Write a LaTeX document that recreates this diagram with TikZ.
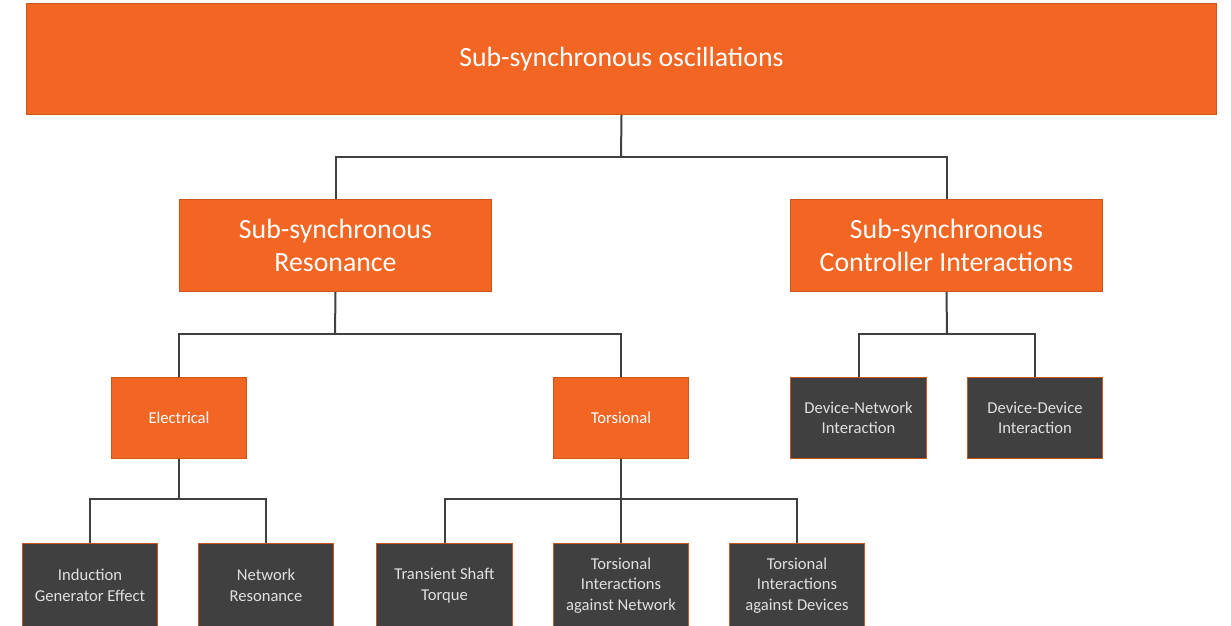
\documentclass[tikz,border=0pt]{standalone}
\usepackage{fontspec}
\setmainfont{Carlito}
\definecolor{ssorange}{HTML}{F26522}
\definecolor{ssedge}{HTML}{C9561B}
\definecolor{ssdark}{HTML}{404040}
\definecolor{sstext}{HTML}{E0E0E0}
\definecolor{ssline}{HTML}{404040}
\tikzset{
  box/.style={draw=ssedge, line width=1pt, inner sep=0pt, align=center, anchor=north west},
  orangebox/.style={box, fill=ssorange, text=white},
  darkbox/.style={box, fill=ssdark, text=sstext},
  big/.style={font=\fontsize{27.8}{33}\selectfont},
  small/.style={font=\fontsize{16.6}{20.5}\selectfont},
  link/.style={draw=ssline, line width=2pt}
}
\begin{document}
\begin{tikzpicture}[x=1pt, y=-1pt]
  \useasboundingbox (0,0) rectangle (1231,625);
  \clip (0,0) rectangle (1231,625);
  % level 0
  \node[orangebox, big, minimum width=1190pt, minimum height=111pt] (root) at (26,3) {Sub-synchronous oscillations};
  % level 1
  \node[orangebox, big, minimum width=312pt, minimum height=92pt] (ssr) at (179,199) {Sub-synchronous\\Resonance};
  \node[orangebox, big, minimum width=312pt, minimum height=92pt] (ssci) at (790,199) {Sub-synchronous\\Controller Interactions};
  % level 2
  \node[orangebox, small, minimum width=135pt, minimum height=81pt] (elec) at (111,377) {Electrical};
  \node[orangebox, small, minimum width=135pt, minimum height=81pt] (tors) at (553,377) {Torsional};
  \node[darkbox, small, minimum width=136pt, minimum height=81pt] (devnet) at (790,377) {Device-Network\\Interaction};
  \node[darkbox, small, minimum width=135pt, minimum height=81pt] (devdev) at (967,377) {Device-Device\\Interaction};
  % level 3
  \node[darkbox, small, minimum width=135pt, minimum height=84pt] (igen) at (22,543) {Induction\\Generator Effect};
  \node[darkbox, small, minimum width=135pt, minimum height=84pt] (netres) at (198,543) {Network\\Resonance};
  \node[darkbox, small, minimum width=136pt, minimum height=84pt] (shaft) at (376,543) {Transient Shaft\\Torque};
  \node[darkbox, small, minimum width=135pt, minimum height=84pt] (tin) at (553,543) {Torsional\\Interactions\\against Network};
  \node[darkbox, small, minimum width=135pt, minimum height=84pt] (tid) at (729,543) {Torsional\\Interactions\\against Devices};

  % connectors
  \coordinate (b0) at (621,157);
  \draw[link] (root.south) -- (b0);
  \draw[link] (ssr.north) |- (b0) -| (ssci.north);

  \coordinate (b1) at (335,334);
  \draw[link] (ssr.south) -- (b1);
  \draw[link] (elec.north) |- (b1) -| (tors.north);

  \coordinate (b2) at (947,334);
  \draw[link] (ssci.south) -- (b2);
  \draw[link] (devnet.north) |- (b2) -| (devdev.north);

  \coordinate (b3) at (179,499);
  \draw[link] (elec.south) -- (b3);
  \draw[link] (igen.north) |- (b3) -| (netres.north);

  \coordinate (b4) at (621,499);
  \draw[link] (tors.south) -- (tin.north);
  \draw[link] (shaft.north) |- (b4) -| (tid.north);
\end{tikzpicture}
\end{document}
